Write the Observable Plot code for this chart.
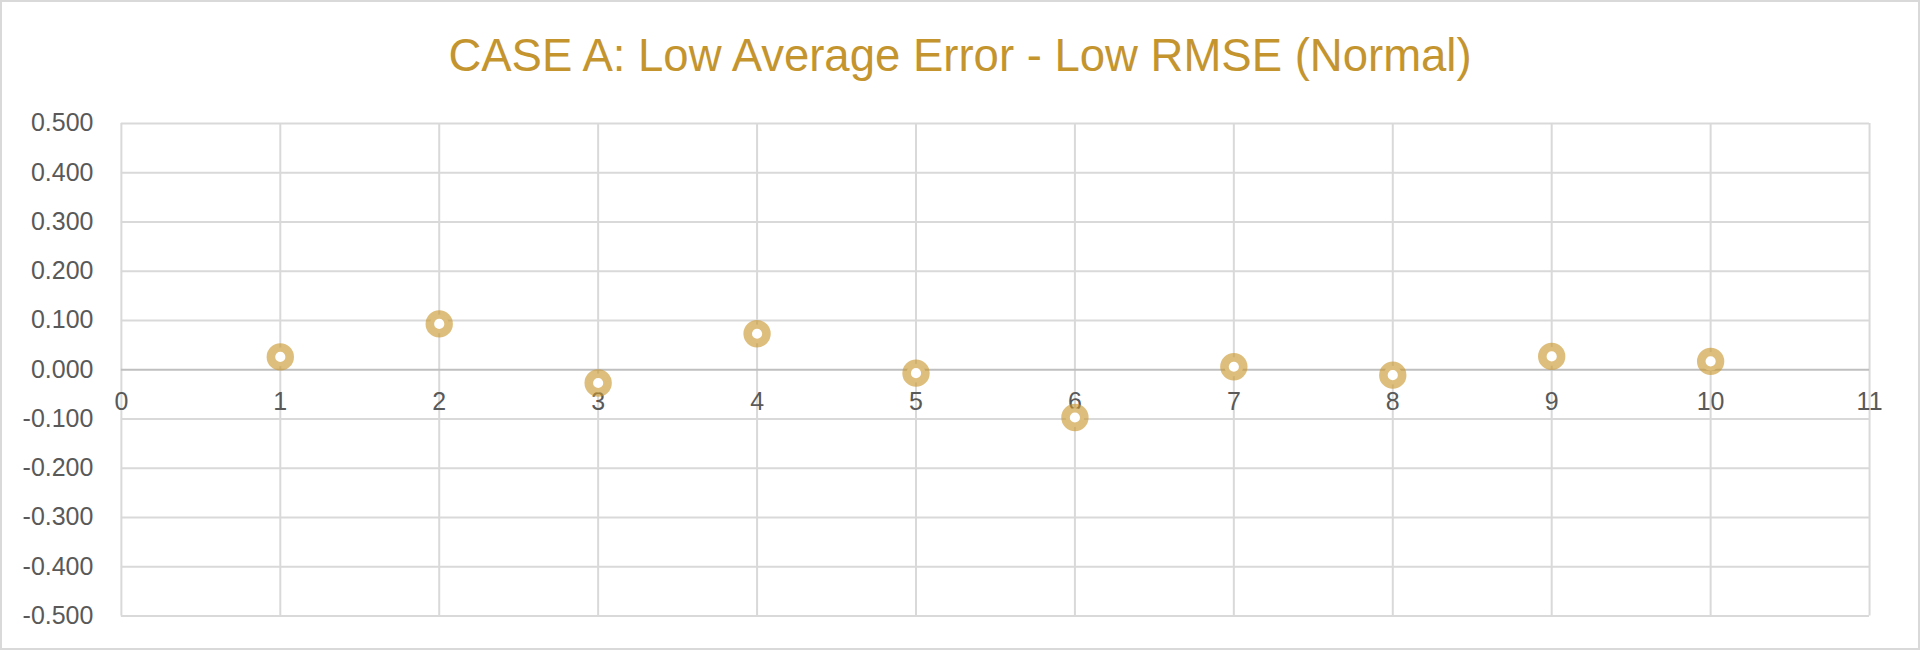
<!DOCTYPE html>
<html>
<head>
<meta charset="utf-8">
<script src="https://cdn.jsdelivr.net/npm/d3@7"></script>
<script src="https://cdn.jsdelivr.net/npm/@observablehq/plot@0.6"></script>
<style>
  html, body { margin: 0; padding: 0; background: #fff; }
  #frame { position: relative; width: 1920px; height: 650px; box-sizing: border-box; border: 2px solid #d9d9d9; background: #fff; overflow: hidden; }
  #title { position: absolute; left: 0; top: 0; width: 1916px; height: 108px; line-height: 108px; text-align: center;
           font-family: "Liberation Sans", Arial, sans-serif; font-size: 45.5px; color: #C4952F; }
  #chart { position: absolute; left: -2px; top: 98px; }
</style>
</head>
<body>
<div id="frame">
  <div id="title">CASE A: Low Average Error - Low RMSE (Normal)</div>
  <div id="chart"></div>
</div>
<script>
const xValues = [1, 2, 3, 4, 5, 6, 7, 8, 9, 10];
const yValues = [0.026, 0.093, -0.027, 0.073, -0.007, -0.097, 0.006, -0.011, 0.027, 0.017];
const xTicks = [0, 1, 2, 3, 4, 5, 6, 7, 8, 9, 10, 11];
const yTicks = [-0.5, -0.4, -0.3, -0.2, -0.1, 0, 0.1, 0.2, 0.3, 0.4, 0.5];

const points = xValues.map((x, i) => ({x, y: yValues[i]}));

const plot = Plot.plot({
  width: 1920,
  height: 552,
  marginTop: 23,
  marginLeft: 121,
  marginRight: 49,
  marginBottom: 36,
  style: {fontFamily: "'Liberation Sans', Arial, sans-serif", background: "transparent"},
  x: {domain: [0, 11], axis: null},
  y: {domain: [-0.5, 0.5], axis: null},
  marks: [
    Plot.gridX(xTicks, {stroke: "#d9d9d9", strokeOpacity: 1, strokeWidth: 2}),
    Plot.gridY(yTicks.filter(d => d !== 0), {stroke: "#d9d9d9", strokeOpacity: 1, strokeWidth: 2}),
    Plot.ruleY([0], {stroke: "#bfbfbf", strokeWidth: 2}),
    Plot.axisY(yTicks, {tickSize: 0, tickPadding: 28, fontSize: 25, fill: "#595959", label: null,
      tickFormat: d => d.toFixed(3)}),
    Plot.text(xTicks, {x: d => d, y: () => 0, dy: 32, text: d => String(d), fontSize: 25, fill: "#595959"}),
    Plot.dot(points, {x: "x", y: "y", r: 9.4, fill: "white", stroke: "#c9962d", strokeOpacity: 0.62, strokeWidth: 8.6})
  ]
});
document.getElementById("chart").appendChild(plot);
</script>
</body>
</html>
